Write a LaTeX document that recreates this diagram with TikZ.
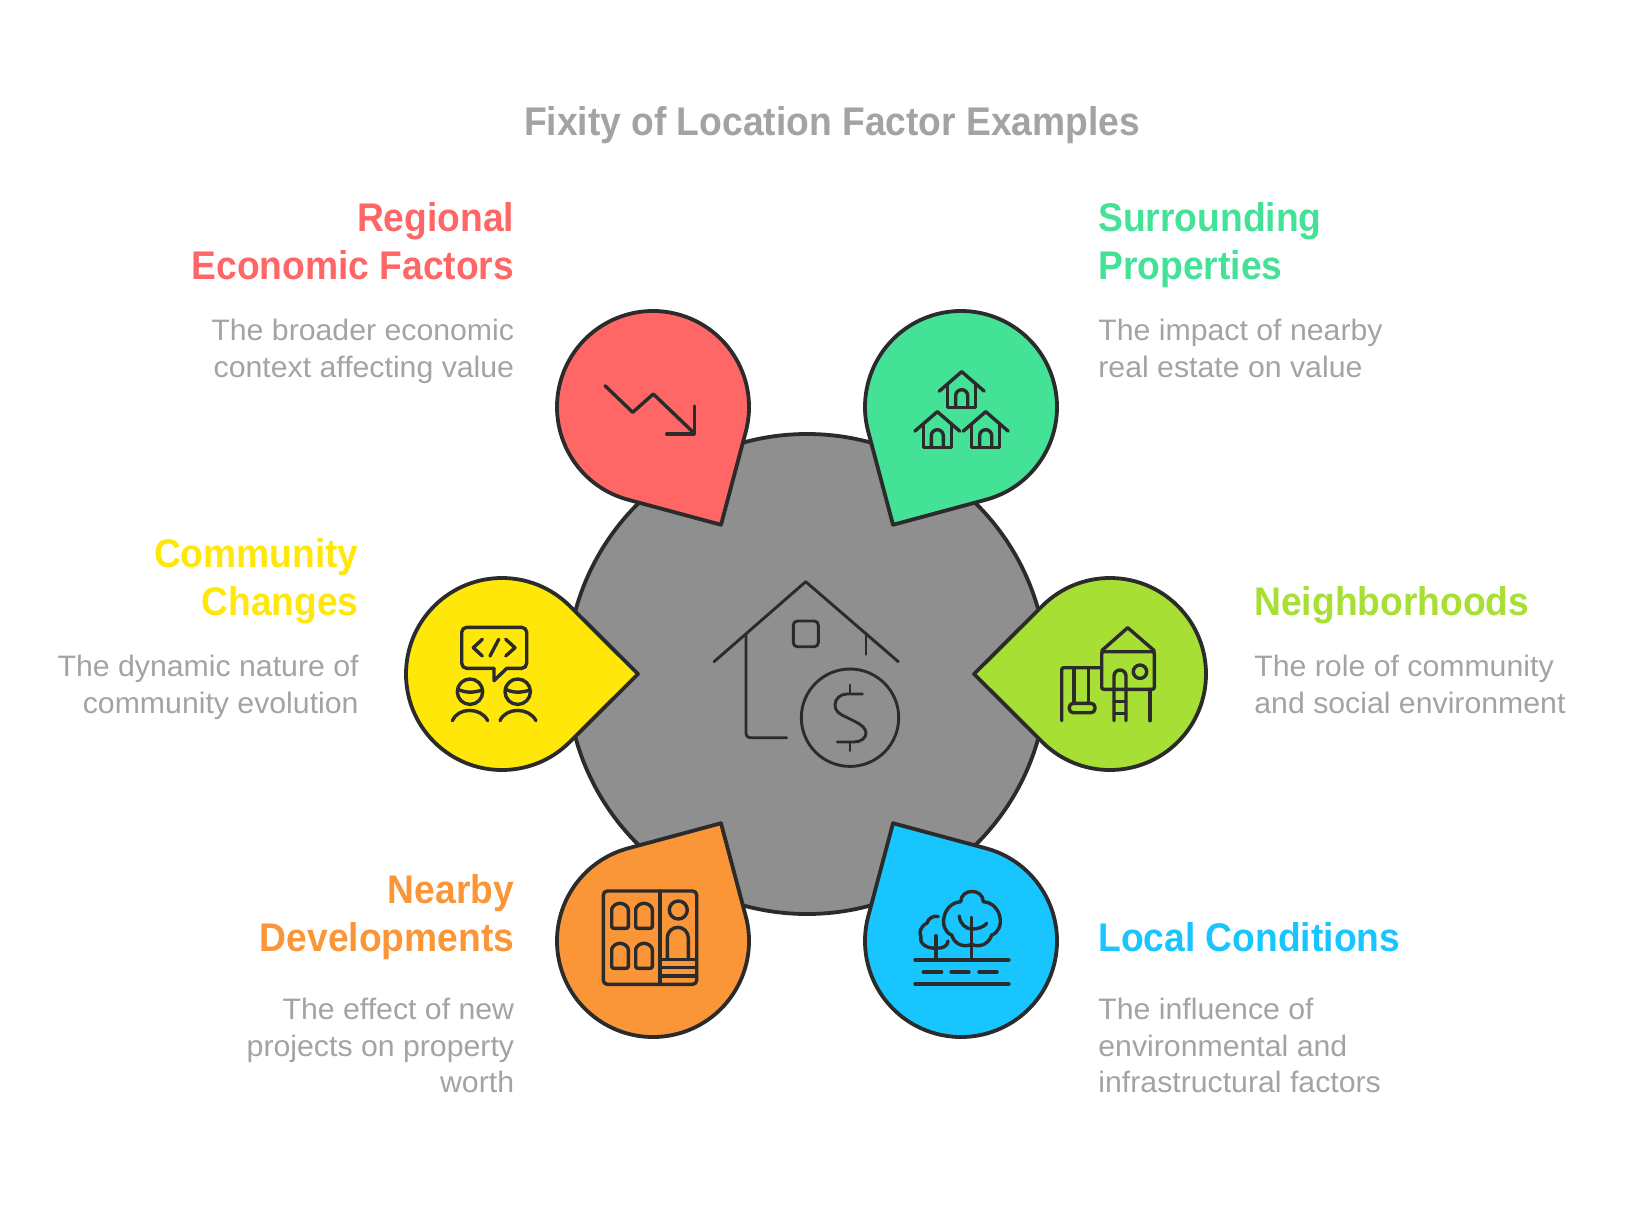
\documentclass[tikz,border=0pt]{standalone}
\usepackage{fontspec}
\setmainfont{Liberation Sans}[FakeStretch=1.022, BoldFeatures={FakeStretch=0.93}]
\definecolor{ink}{HTML}{2B2B2B}
\definecolor{hub}{HTML}{8F8F8F}
\definecolor{muted}{HTML}{A3A3A3}
\definecolor{regional}{HTML}{FF6666}
\definecolor{surrounding}{HTML}{43E297}
\definecolor{neighbor}{HTML}{A7DF35}
\definecolor{community}{HTML}{FFE70A}
\definecolor{nearby}{HTML}{FA9638}
\definecolor{localc}{HTML}{18C5FF}

\begin{document}
\begin{tikzpicture}[x=0.5pt, y=-0.5pt,
  outline/.style={draw=ink, line width=1.9pt, line join=round},
  icon/.style={draw=ink, line width=1.7pt, line cap=round, line join=round},
  coinicon/.style={draw=ink, line width=1.45pt, line cap=round, line join=round},
  heading/.style={inner sep=0pt, font=\fontsize{20}{24}\selectfont\bfseries},
  blurb/.style={inner sep=0pt, text=muted, font=\fontsize{14.8}{18.3}\selectfont},
  pics/petal/.style={code={
    \draw[outline, fill=#1] (45:96) arc[start angle=45, end angle=315, radius=96] -- (136,0) -- cycle;
  }},
  pics/cottage/.style={code={
    \draw[icon] (-22.5,19.5) -- (0,0) -- (22.5,19.5);
    \draw[icon] (-14,13) -- (-14,36) -- (14,36) -- (14,13);
    \draw[icon] (-6,36) -- (-6,24) arc[start angle=180, end angle=360, radius=6] -- (6,36);
  }},
  pics/arched/.style={code={
    \draw[icon, rounded corners=1pt] (-8.3,25) -- (-8.3,8.3) arc[start angle=180, end angle=360, radius=8.3] -- (8.3,25) -- cycle;
  }}]
  \useasboundingbox (0,0) rectangle (1636,1204);

  \node[inner sep=0pt, anchor=base, text=muted, font=\fontsize{20}{24}\selectfont\bfseries] (title) at (832,135) {Fixity of Location Factor Examples};

  \draw[outline, fill=hub] (807,674) circle[radius=240];

  \pic[rotate=-60] at (653,407) {petal=regional};
  \pic[rotate=-120] at (961,407) {petal=surrounding};
  \pic[rotate=180] at (1110,674) {petal=neighbor};
  \pic[rotate=0] at (502,674) {petal=community};
  \pic[rotate=60] at (653,941) {petal=nearby};
  \pic[rotate=120] at (961,941) {petal=localc};

  % house with coin
  \draw[coinicon] (714,661.7) -- (805.7,581.7) -- (898.3,661.7);
  \draw[coinicon, rounded corners=2pt] (746,634) -- (746,737.7) -- (786.7,737.7);
  \draw[coinicon] (866,634) -- (866,654.3);
  \draw[coinicon, rounded corners=2pt] (793.3,621) rectangle (818.3,646.7);
  \draw[coinicon] (850,717.7) circle[radius=48.7];
  \draw[coinicon] (850,685) -- (850,693.3);
  \draw[coinicon] (850,742.3) -- (850,750.7);
  \draw[coinicon] (862.3,694) -- (847,694) .. controls (840,694) and (835,699) .. (835,705) .. controls (835,711) and (839,714) .. (846,717) -- (856,722) .. controls (862,725) and (866,729) .. (866,733) .. controls (866,738) and (861,742) .. (854,742) -- (837.3,742);

  % falling arrow
  \draw[icon] (605,385.7) -- (632.7,412.3) -- (653.3,394) -- (694.3,433.3);
  \draw[icon] (694.3,406) -- (694.3,434) -- (666.7,434);

  % three houses
  \pic at (961.7,371.7) {cottage};
  \pic at (937.3,411.7) {cottage};
  \pic at (985.7,411.7) {cottage};

  % playground
  \draw[icon, rounded corners=1pt] (1101.7,651.7) rectangle (1154.3,689.3);
  \draw[icon] (1101.7,650.7) -- (1127.7,627.7) -- (1154.3,650.7);
  \draw[icon] (1140,671.7) circle[radius=6.7];
  \draw[icon] (1150,689.3) -- (1150,720.7);
  \draw[icon] (1114,720.7) -- (1114,676) arc[start angle=180, end angle=360, radius=6] -- (1126,720.7);
  \draw[icon] (1114,689.3) -- (1126,689.3);
  \draw[icon] (1114,701.7) -- (1126,701.7);
  \draw[icon] (1114,713.3) -- (1126,713.3);
  \draw[icon, rounded corners=1pt] (1061.7,720.7) -- (1061.7,667.7) -- (1101.7,667.7);
  \draw[icon] (1074,667.7) -- (1074,703.3);
  \draw[icon] (1088.3,667.7) -- (1088.3,703.3);
  \draw[icon, rounded corners=2pt] (1069.3,703.3) rectangle (1095,712.7);

  % chat bubble and two people
  \draw[icon, rounded corners=2.5pt] (494,668.3) -- (461.7,668.3) -- (461.7,627.3) -- (526.7,627.3) -- (526.7,668.3) -- (506.7,668.3);
  \draw[icon] (506.7,668.3) -- (494,680.7) -- (494,668.3);
  \draw[icon] (482.3,639.3) -- (473.3,647.7) -- (482.3,656);
  \draw[icon] (505.7,639.3) -- (515,647.7) -- (505.7,656);
  \draw[icon] (498.7,639.3) -- (490,656);
  \draw[icon] (470,691.7) circle[radius=12.7];
  \draw[icon] (517.7,691.7) circle[radius=12.7];
  \draw[icon] (457.5,689) .. controls (465,693) and (473,693) .. (482.5,690);
  \draw[icon] (505.2,689) .. controls (512.7,693) and (520.7,693) .. (530.2,690);
  \draw[icon] (452.3,720.7) .. controls (458,707) and (481,707) .. (487.7,720.7);
  \draw[icon] (500,720.7) .. controls (506,707) and (529,707) .. (536,720.7);

  % building
  \draw[icon, rounded corners=2pt] (603.3,891) rectangle (696.7,984.3);
  \draw[icon] (660,891) -- (660,984.3);
  \pic at (620,903.3) {arched};
  \pic at (644,903.3) {arched};
  \pic at (620,943.3) {arched};
  \pic at (644,943.3) {arched};
  \draw[icon] (678.3,910) circle[radius=9];
  \draw[icon] (667.3,959.3) -- (667.3,937.8) arc[start angle=180, end angle=360, radius=10.5] -- (688.3,959.3);
  \draw[icon] (660,959.3) -- (696.7,959.3);
  \draw[icon] (660,967.6) -- (696.7,967.6);
  \draw[icon] (660,976) -- (696.7,976);

  % trees and road
  \draw[icon] (915,960) -- (1009,960);
  \draw[icon] (923.3,972) -- (941.7,972);
  \draw[icon] (951,972) -- (969,972);
  \draw[icon] (979,972) -- (997,972);
  \draw[icon] (915,984) -- (1009,984);
  \draw[icon] (971.7,917.3) -- (971.7,960);
  \draw[icon] (959.3,916) .. controls (960,924) and (966,929) .. (971.7,929) .. controls (978,929) and (984,927) .. (986.7,923.3);
  \draw[icon] (960.7,901.7) .. controls (961,888) and (983,888) .. (983.3,901.7) .. controls (1002,903) and (1006,930) .. (991.7,935) .. controls (988,947) and (975,947) .. (971.7,944) .. controls (968,947) and (955,947) .. (951.7,935) .. controls (938,930) and (942,903) .. (960.7,901.7);
  \draw[icon] (936,935.7) -- (936,960);
  \draw[icon] (938.3,916.5) .. controls (933,915) and (928,919) .. (927,923) .. controls (922,925) and (918,932) .. (921,937) .. controls (919,944) and (928,949) .. (936,948) .. controls (942,949) and (948,946) .. (948,941);

  \node[heading, text=regional, anchor=base east, align=right] (regionalHead) at (514.5,279) {Regional\\Economic Factors};
  \node[blurb, anchor=base east, align=right] (regionalText) at (514.5,377) {The broader economic\\context affecting value};
  \node[heading, text=surrounding, anchor=base west, align=left] (surroundingHead) at (1098,279) {Surrounding\\Properties};
  \node[blurb, anchor=base west, align=left] (surroundingText) at (1098,377) {The impact of nearby\\real estate on value};
  \node[heading, text=community, anchor=base east, align=right] (communityHead) at (359,615) {Community\\Changes};
  \node[blurb, anchor=base east, align=right] (communityText) at (359,713) {The dynamic nature of\\community evolution};
  \node[heading, text=neighbor, anchor=base west] (neighborHead) at (1254,615) {Neighborhoods};
  \node[blurb, anchor=base west, align=left] (neighborText) at (1254,713) {The role of community\\and social environment};
  \node[heading, text=nearby, anchor=base east, align=right] (nearbyHead) at (514.5,951.7) {Nearby\\Developments};
  \node[blurb, anchor=base east, align=right] (nearbyText) at (514.5,1092.7) {The effect of new\\projects on property\\worth};
  \node[heading, text=localc, anchor=base west] (localHead) at (1098,951.7) {Local Conditions};
  \node[blurb, anchor=base west, align=left] (localText) at (1098,1092.7) {The influence of\\environmental and\\infrastructural factors};
\end{tikzpicture}
\end{document}
